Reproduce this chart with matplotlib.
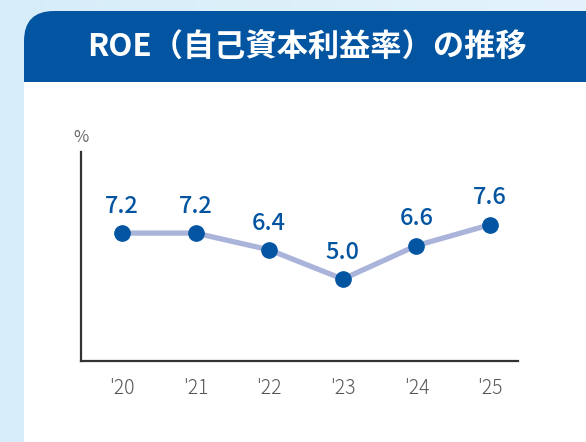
import numpy as np
import matplotlib
matplotlib.use("Agg")
import matplotlib.pyplot as plt
from matplotlib.patches import FancyBboxPatch, Rectangle

years = ["'20", "'21", "'22", "'23", "'24", "'25"]
roe = [7.2, 7.2, 6.4, 5.0, 6.6, 7.6]
title = "ROE（自己資本利益率）の推移"

plt.rcParams['font.family'] = ['Noto Sans CJK JP', 'DejaVu Sans']

W, H = 586, 442
fig = plt.figure(figsize=(W / 100, H / 100), dpi=100)

# background in pixel coordinates
bg = fig.add_axes([0, 0, 1, 1])
bg.set_xlim(0, W)
bg.set_ylim(H, 0)
bg.axis('off')
grad = np.linspace(0, 1, 256).reshape(1, -1)
bg.imshow(grad, extent=[0, W, H, 0], aspect='auto',
          cmap=matplotlib.colors.LinearSegmentedColormap.from_list('g', ['#d6edf9', '#e4f3fb']))

card_blue = '#0355a2'
bg.add_patch(FancyBboxPatch((24, 11), 700, 600, boxstyle="round,pad=0,rounding_size=30",
                            fc=card_blue, ec='none'))
bg.add_patch(Rectangle((24, 82), 700, 600, fc='white', ec='none'))
bg.text(87, 48, title, color='white', fontsize=22.5, fontweight='bold',
        ha='left', va='center')

# chart axes
x0, x1, y0, y1 = 81, 518, 152, 361
ax = fig.add_axes([x0 / W, 1 - y1 / H, (x1 - x0) / W, (y1 - y0) / H])
ax.set_facecolor('none')
xs = np.arange(len(years))
ax.plot(xs, roe, color='#aab3da', lw=3.8, zorder=2, solid_capstyle='butt')
ax.plot(xs, roe, 'o', color=card_blue, ms=11, zorder=3)
for x, v in zip(xs, roe):
    ax.annotate(f"{v:.1f}", (x, v), xytext=(0, 11), textcoords='offset points',
                ha='center', va='bottom', color=card_blue, fontsize=17,
                fontweight='medium')

ax.set_xlim(-0.557, 5.38)
ax.set_ylim(1.08, 11.08)
for s in ['top', 'right']:
    ax.spines[s].set_visible(False)
for s in ['left', 'bottom']:
    ax.spines[s].set_color('#333333')
    ax.spines[s].set_linewidth(1.6)
ax.set_yticks([])
ax.set_xticks(xs)
ax.set_xticklabels(years, color='#555555', fontsize=14, fontweight='light')
ax.tick_params(axis='x', length=0, pad=12)
fig.text(x0 / W, 1 - 138 / H, '%', color='#666666', fontsize=12, ha='center', va='center')

fig.savefig('out.png', dpi=100)
